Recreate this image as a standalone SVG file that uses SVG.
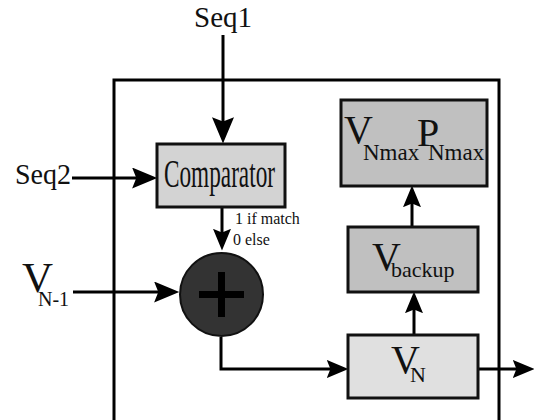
<svg xmlns="http://www.w3.org/2000/svg" width="534" height="420" viewBox="0 0 534 420">
<style>
.t{font-family:'Liberation Serif','DejaVu Serif',serif;fill:#111}
.ln{fill:none;stroke:#000;stroke-width:3}
.box{stroke:#111;stroke-width:3}
</style>
<defs>
<marker id="ahL" viewBox="0 0 12 10" markerUnits="userSpaceOnUse" markerWidth="33" markerHeight="22" refX="9" refY="5" orient="auto"><path d="M0,0 L12,5 L0,10 L2,5 z" fill="#000"/></marker>
<marker id="ahM" viewBox="0 0 12 10" markerUnits="userSpaceOnUse" markerWidth="27" markerHeight="21" refX="9" refY="5" orient="auto"><path d="M0,0 L12,5 L0,10 L2,5 z" fill="#000"/></marker>
<marker id="ahS" viewBox="0 0 12 10" markerUnits="userSpaceOnUse" markerWidth="22" markerHeight="18" refX="9" refY="5" orient="auto"><path d="M0,0 L12,5 L0,10 L2,5 z" fill="#000"/></marker>
</defs>
<rect width="534" height="420" fill="#fff"/>
<g id="outer"><rect x="114" y="80" width="385" height="360" fill="none" stroke="#000" stroke-width="3"/></g>
<g id="connectors">
<line class="ln" x1="223" y1="35" x2="223" y2="137" marker-end="url(#ahL)"/>
<line class="ln" x1="72" y1="178" x2="151" y2="178" marker-end="url(#ahM)"/>
<line class="ln" x1="222" y1="207" x2="222" y2="245" marker-end="url(#ahS)"/>
<line class="ln" x1="73" y1="292" x2="173" y2="292" marker-end="url(#ahM)"/>
<path class="ln" d="M221,337 V369 H343" marker-end="url(#ahS)"/>
<line class="ln" x1="414" y1="334" x2="414" y2="297" marker-end="url(#ahS)"/>
<line class="ln" x1="412" y1="227" x2="412" y2="191" marker-end="url(#ahS)"/>
<line class="ln" x1="478" y1="369" x2="529" y2="369" marker-end="url(#ahS)"/>
</g>
<g id="seq1"><text class="t" x="223" y="27" font-size="29" text-anchor="middle">Seq1</text></g>
<g id="seq2"><text class="t" x="15" y="184" font-size="29" textLength="56" lengthAdjust="spacingAndGlyphs">Seq2</text></g>
<g id="vn1">
<text class="t" x="22" y="292" font-size="43">V<tspan x="38" y="306" font-size="20">N-1</tspan></text>
</g>
<g id="comparator">
<rect class="box" x="157" y="144" width="128" height="63" fill="#d3d3d3"/>
<text class="t" x="164" y="187" font-size="40" textLength="111" lengthAdjust="spacingAndGlyphs">Comparator</text>
</g>
<g id="label-match">
<text class="t" x="235" y="224" font-size="16">1 if match</text>
<text class="t" x="233" y="245" font-size="16">0 else</text>
</g>
<g id="adder">
<circle cx="221.5" cy="294.5" r="41.5" fill="#333" stroke="#111" stroke-width="2"/>
<rect x="199" y="291" width="45" height="7" fill="#000"/>
<rect x="218" y="272" width="7" height="45" fill="#000"/>
</g>
<g id="vnmax">
<rect class="box" x="341" y="100" width="146" height="86" fill="#c0c0c0"/>
<text class="t" x="344" y="143" font-size="40">V<tspan x="363" y="160" font-size="23">Nmax</tspan><tspan x="417" y="146" font-size="40">P</tspan><tspan x="428" y="160" font-size="23">Nmax</tspan></text>
</g>
<g id="vbackup">
<rect class="box" x="348" y="227" width="130" height="65" fill="#c0c0c0"/>
<text class="t" x="372" y="270" font-size="40">V<tspan x="391" y="277" font-size="22">backup</tspan></text>
</g>
<g id="vn">
<rect class="box" x="348" y="335" width="130" height="63" fill="#e0e0e0"/>
<text class="t" x="391" y="373" font-size="40">V<tspan x="410" y="382" font-size="22">N</tspan></text>
</g>
</svg>
